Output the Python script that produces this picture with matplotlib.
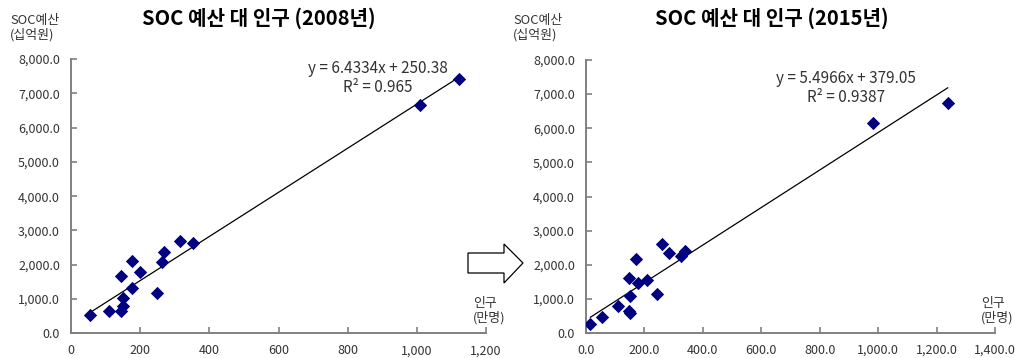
import matplotlib.pyplot as plt
from matplotlib.patches import Polygon
from matplotlib.ticker import FuncFormatter
import numpy as np

plt.rcParams['font.family'] = ['Noto Sans CJK KR', 'DejaVu Sans']

# 인구(만명) vs SOC 예산(십억원), 시도별
pop_2008 = [55, 110, 145, 151, 149, 146, 177, 177, 200, 248, 264, 270, 315, 352, 1009, 1123]
soc_2008 = [534, 659, 659, 796, 1038, 1680, 1330, 2108, 1788, 1175, 2079, 2362, 2700, 2642, 6659, 7417]

pop_2015 = [15, 55, 108, 146, 150, 151, 147, 171, 177, 208, 242, 261, 284, 325, 339, 984, 1238]
soc_2015 = [255, 469, 791, 640, 580, 1094, 1603, 2177, 1465, 1562, 1143, 2617, 2353, 2265, 2403, 6163, 6731]

# 추세선 계수 (기울기, 절편, R^2)
fit_2008 = (6.4334, 250.38, 0.965)
fit_2015 = (5.4966, 379.05, 0.9387)

W, H = 1015, 358
fig = plt.figure(figsize=(W / 100, H / 100), dpi=100)


def px(x, y):
    return x / W, 1 - y / H


def panel(rect, xs, ys, fit, xmax, xfmt, title, title_x, eq_x, eq_y, ylab_x, xlab_x):
    ax = fig.add_axes(rect)
    ax.scatter(xs, ys, marker='D', s=46, color='#000080', zorder=3, linewidths=0)
    a, b, r2 = fit
    xl = np.array([min(xs), max(xs)])
    ax.plot(xl, a * xl + b, color='black', lw=0.9, zorder=2)
    ax.set_xlim(0, xmax)
    ax.set_ylim(0, 8000)
    ax.set_xticks(np.arange(0, xmax + 1, 200))
    ax.set_yticks(np.arange(0, 8001, 1000))
    ax.xaxis.set_major_formatter(FuncFormatter(xfmt))
    ax.yaxis.set_major_formatter(FuncFormatter(lambda v, p: f'{v:,.1f}'))
    for s in ['top', 'right']:
        ax.spines[s].set_visible(False)
    for s in ['left', 'bottom']:
        ax.spines[s].set_color('#808080')
        ax.spines[s].set_linewidth(1.4)
    ax.tick_params(direction='in', length=4, width=1.2, color='#808080',
                   labelsize=9, labelcolor='#333333')
    ax.tick_params(axis='y', pad=8)
    ax.tick_params(axis='x', pad=8)
    ax.patch.set_alpha(0)

    fig.text(*px(title_x, 18), title, ha='center', va='center',
             fontsize=14.5, fontweight='bold', color='black')
    fig.text(*px(ylab_x, 28), 'SOC예산\n(십억원)', ha='left', va='center',
             fontsize=9.3, color='#333333', linespacing=1.1)
    fig.text(*px(xlab_x, 311), '인구\n(만명)', ha='left', va='center',
             fontsize=9.3, color='#333333', linespacing=1.1)
    fig.text(*px(eq_x, eq_y), f'y = {a}x + {b}\nR² = {r2}', ha='center', va='center',
             fontsize=11, color='#333333', linespacing=1.15)
    return ax


panel([71 / W, 1 - 333.3 / H, 415 / W, 274.3 / H], pop_2008, soc_2008, fit_2008, 1200,
      lambda v, p: f'{v:,.0f}', 'SOC 예산 대 인구 (2008년)', 259, 378, 78, 10, 473)
panel([586 / W, 1 - 333 / H, 409 / W, 273 / H], pop_2015, soc_2015, fit_2015, 1400,
      lambda v, p: f'{v:,.1f}', 'SOC 예산 대 인구 (2015년)', 772, 846, 88, 513, 981)

# 두 그래프 사이의 화살표
arrow_px = [(468, 253), (504, 253), (504, 244), (523, 263), (504, 283), (504, 273), (468, 273)]
fig.patches.append(Polygon([px(x, y) for x, y in arrow_px], closed=True,
                           transform=fig.transFigure, facecolor='white',
                           edgecolor='black', lw=0.9))

fig.savefig('out.png', dpi=100)
